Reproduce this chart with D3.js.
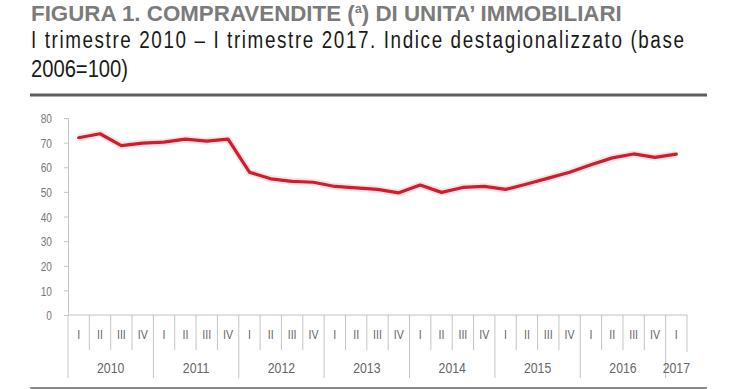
<!DOCTYPE html>
<html><head><meta charset="utf-8">
<script src="https://cdn.jsdelivr.net/npm/d3@7"></script>
<style>
html,body{margin:0;padding:0;background:#fff;}
svg{display:block;}
</style></head>
<body>
<svg id="c" width="740" height="389"></svg>
<script>
const years = ["2010","2010","2010","2010","2011","2011","2011","2011","2012","2012","2012","2012","2013","2013","2013","2013","2014","2014","2014","2014","2015","2015","2015","2015","2016","2016","2016","2016","2017"];
const quarters = ["I","II","III","IV","I","II","III","IV","I","II","III","IV","I","II","III","IV","I","II","III","IV","I","II","III","IV","I","II","III","IV","I"];
const values = [72.0,73.6,68.8,69.8,70.2,71.4,70.6,71.4,58.0,55.3,54.3,53.9,52.2,51.6,51.0,49.6,52.8,49.8,51.8,52.2,51.0,53.2,55.6,58.0,61.0,63.8,65.4,64.0,65.3];
const yTicks = [0,10,20,30,40,50,60,70,80];
const yearLabels = ["2010","2011","2012","2013","2014","2015","2016","2017"];
const titleParts = ["FIGURA 1. COMPRAVENDITE (", "a", ") DI UNITA’ IMMOBILIARI"];

const svg = d3.select("#c");
const FONT = "'Liberation Sans',Arial,sans-serif";
const SX = 0.82;

function narrowText(parent, x, y, txt, opts){
  const el = parent.append("text")
    .attr("transform",`translate(${x},${y}) scale(${opts.sx||SX},1)`)
    .attr("font-family",FONT).attr("font-size",opts.size).attr("fill",opts.fill||"#222")
    .attr("text-anchor",opts.anchor||"start");
  if (opts.weight) el.attr("font-weight",opts.weight);
  if (txt!=null) el.text(txt);
  if (opts.len) el.attr("textLength",opts.len/(opts.sx||SX)).attr("lengthAdjust",opts.adj||"spacing");
  return el;
}

// title: three separate texts fitted to span x 31..622
const tsizes = [22, 12, 22];
const tdy = [0, -8, 0];
const tEls = titleParts.map((p,i)=> svg.append("text").attr("font-family",FONT).attr("font-weight","bold")
  .attr("font-size",tsizes[i]).attr("fill","#7b7b7b").text(p));
const widths = tEls.map(e=>e.node().getComputedTextLength());
const total = d3.sum(widths);
const tsx = 591/total;
let cx = 31;
tEls.forEach((e,i)=>{
  e.attr("transform",`translate(${cx},${21+tdy[i]}) scale(${tsx},1)`);
  cx += widths[i]*tsx;
});

// subtitle
narrowText(svg, 31, 48, "I trimestre 2010 – I trimestre 2017. Indice destagionalizzato (base", {size:23, fill:"#1a1a1a", len:653});
narrowText(svg, 31, 77, "2006=100)", {size:23, fill:"#1a1a1a", len:97, adj:"spacingAndGlyphs"});

svg.append("line").attr("x1",30).attr("x2",707).attr("y1",95).attr("y2",95).attr("stroke","#5e5e5e").attr("stroke-width",3);
svg.append("line").attr("x1",30).attr("x2",707).attr("y1",388).attr("y2",388).attr("stroke","#8a8a8a").attr("stroke-width",2);

// scales
const x = d3.scaleBand().domain(d3.range(values.length)).range([68,687]).paddingInner(0).paddingOuter(0);
const y = d3.scaleLinear().domain([0,80]).range([315,118]);

// y axis
const ya = svg.append("g").attr("transform","translate(68,0)")
  .call(d3.axisLeft(y).tickValues(yTicks).tickSize(4));
ya.select(".domain").attr("stroke","#c4c4c4");
ya.selectAll(".tick line").attr("stroke","#c4c4c4");
ya.selectAll(".tick text").attr("x",null).attr("dy","0.36em")
  .attr("transform","translate(-16,0) scale(0.78,1)")
  .attr("font-family",FONT).attr("font-size",13).attr("fill","#777");

// x axis baseline
svg.append("line").attr("x1",68).attr("x2",687).attr("y1",y(0)).attr("y2",y(0)).attr("stroke","#c4c4c4");

// separators
const g = svg.append("g");
d3.range(values.length+1).forEach(i=>{
  const xx = i<values.length ? x(i) : x(values.length-1)+x.bandwidth();
  const isYear = i===0 || (i<values.length && quarters[i]==="I");
  const y2 = isYear ? 378 : (i===values.length ? 352 : 350);
  g.append("line").attr("x1",xx).attr("x2",xx).attr("y1",y(0)).attr("y2",y2)
    .attr("stroke","#c4c4c4").attr("stroke-width",1);
});
// quarter labels
quarters.forEach((q,i)=>{
  narrowText(g, x(i)+x.bandwidth()/2, 339, q, {size:13, fill:"#666", anchor:"middle"});
});
// year labels
yearLabels.forEach(yr=>{
  const idx = years.map((v,i)=>v===yr?i:-1).filter(i=>i>=0);
  const c = (x(idx[0])+x(idx[idx.length-1])+x.bandwidth())/2;
  narrowText(g, c, 373, yr, {size:15, fill:"#666", anchor:"middle"});
});

// line
const line = d3.line().x((d,i)=>x(i)+x.bandwidth()/2).y(d=>y(d));
svg.append("path").datum(values).attr("d",line).attr("fill","none")
  .attr("stroke","#f0a8ac").attr("stroke-width",7).attr("stroke-opacity",0.3).attr("stroke-linejoin","round");
svg.append("path").datum(values).attr("d",line).attr("fill","none")
  .attr("stroke","#cf1d2d").attr("stroke-width",3.2).attr("stroke-linejoin","round").attr("stroke-linecap","round");
</script>
</body></html>
